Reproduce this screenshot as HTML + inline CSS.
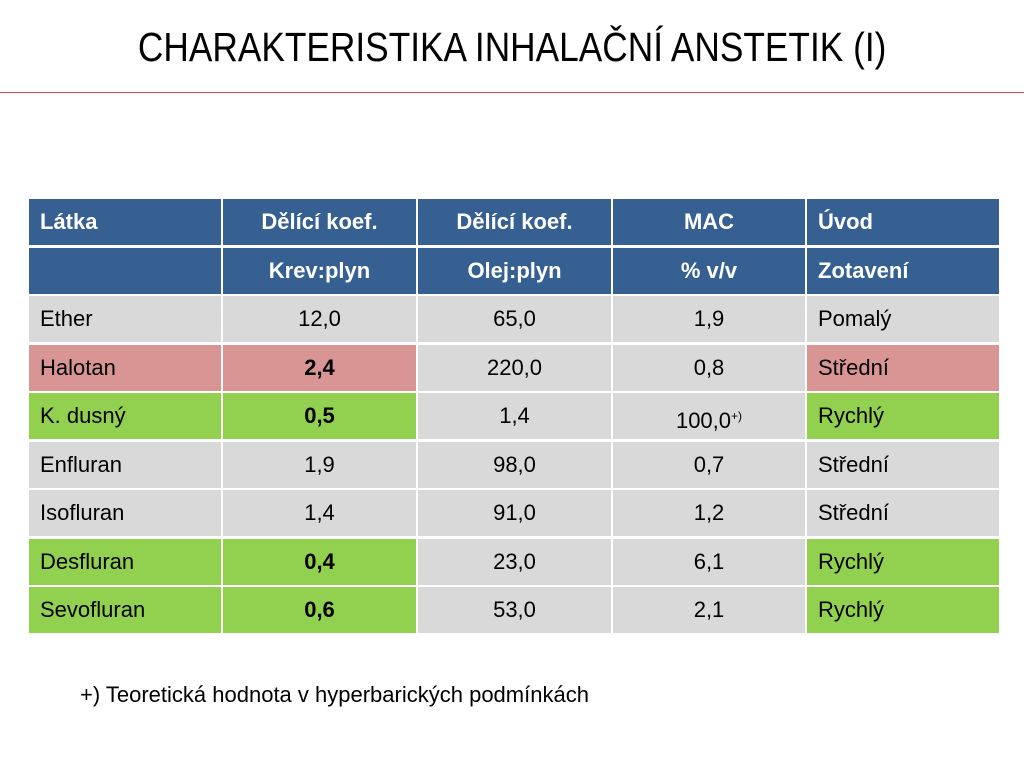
<!DOCTYPE html>
<html><head><meta charset="utf-8"><style>
body{margin:0;width:1024px;height:768px;background:#fff;position:relative;overflow:hidden;font-family:"Liberation Sans",sans-serif}
#title{position:absolute;left:0;top:24px;width:1024px;text-align:center;font-size:41px;color:#000;white-space:nowrap}
#title span{display:inline-block;transform:scaleX(0.86);transform-origin:center}
#rule{position:absolute;left:0;top:92px;width:1024px;height:1px;background:#e04848}
.c{position:absolute;box-sizing:border-box;font-size:22px;line-height:46px;color:#000;white-space:nowrap}
.h{background:#366092;color:#fff;font-weight:bold}
.l{padding-left:11px;text-align:left}.m{text-align:center}
#note{position:absolute;left:80px;top:682px;font-size:22px;color:#000}
sup{font-size:12px;vertical-align:8px}
</style></head><body>
<div id="title"><span>CHARAKTERISTIKA INHALAČNÍ ANSTETIK (I)</span></div>
<div id="rule"></div>
<div id="tbl"></div>
<div id="note">+) Teoretická hodnota v hyperbarických podmínkách</div>
<script>
const headers1=["Látka","Dělící koef.","Dělící koef.","MAC","Úvod"];
const headers2=["","Krev:plyn","Olej:plyn","% v/v","Zotavení"];
const agents=["Ether","Halotan","K. dusný","Enfluran","Isofluran","Desfluran","Sevofluran"];
const bloodGas=["12,0","2,4","0,5","1,9","1,4","0,4","0,6"];
const oilGas=["65,0","220,0","1,4","98,0","91,0","23,0","53,0"];
const mac=["1,9","0,8","100,0<sup>+)</sup>","0,7","1,2","6,1","2,1"];
const induction=["Pomalý","Střední","Rychlý","Střední","Střední","Rychlý","Rychlý"];
const rowColor=["grey","pink","green","grey","grey","green","green"];
const colX=[28,222,417,612,806,1000];
const colors={grey:"#d9d9d9",pink:"#d99594",green:"#92d050"};
const t=document.getElementById('tbl');
function cell(x0,x1,y,h,html,cls,bg,name){
  const d=document.createElement('div');
  d.className='c '+cls;
  d.style.left=(x0+1)+'px';d.style.width=(x1-x0-2)+'px';
  d.style.top=y+'px';d.style.height=h+'px';d.style.lineHeight=h+'px';
  if(bg)d.style.background=bg;
  d.innerHTML=html;
  
  
  t.appendChild(d);
}
headers1.forEach((s,i)=>cell(colX[i],colX[i+1],199,46,s,'h '+(i==0||i==4?'l':'m'),null,'header-cell'));
headers2.forEach((s,i)=>cell(colX[i],colX[i+1],248,46,s,'h '+(i==0||i==4?'l':'m'),null,'subheader-cell'));
agents.forEach((a,r)=>{
  const y=296+r*48.5, h=46;
  const c=colors[rowColor[r]];
  const hl=rowColor[r]!=='grey';
  cell(colX[0],colX[1],y,h,a,'l',hl?c:colors.grey,'agent-name');
  cell(colX[1],colX[2],y,h,hl?'<b>'+bloodGas[r]+'</b>':bloodGas[r],'m',hl?c:colors.grey,'blood-gas-value');
  cell(colX[2],colX[3],y,h,oilGas[r],'m',colors.grey,'oil-gas-value');
  cell(colX[3],colX[4],y,h,mac[r],'m',colors.grey,'mac-value');
  cell(colX[4],colX[5],y,h,induction[r],'l',hl?c:colors.grey,'induction-speed');
});
</script>
</body></html>
